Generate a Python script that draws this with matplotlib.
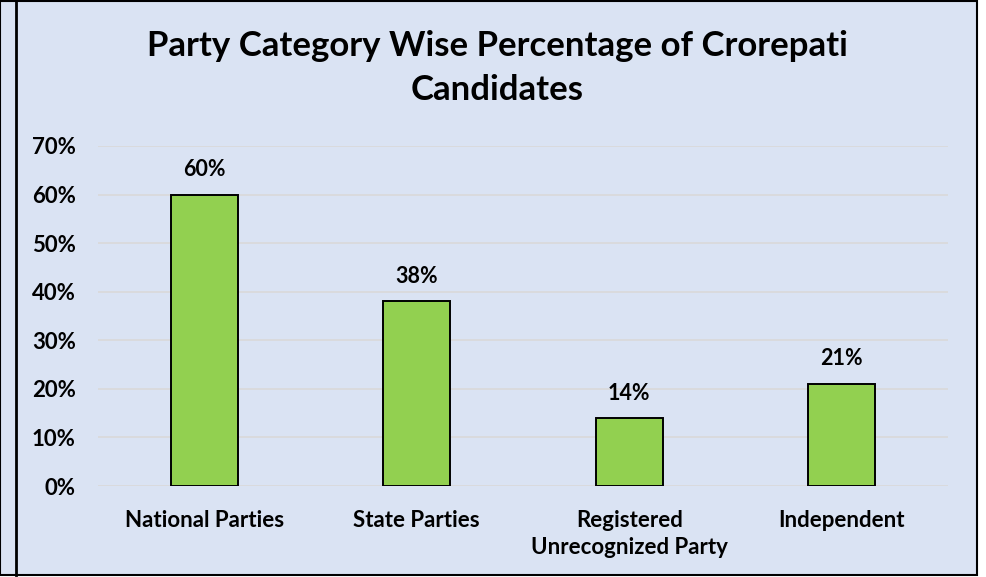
import matplotlib
matplotlib.use("Agg")
import matplotlib.pyplot as plt
from matplotlib.patches import Rectangle
from matplotlib.lines import Line2D
import numpy as np

# ─── Data ────────────────────────────────────────────────────────────────────
CATEGORIES = ["National Parties", "State Parties", "Registered\nUnrecognized Party", "Independent"]
PERCENTS   = [60, 38, 14, 21]
Y_TICKS    = [0, 10, 20, 30, 40, 50, 60, 70]
TITLE      = "Party Category Wise Percentage of Crorepati\nCandidates"

BG    = "#dae3f3"
GREEN = "#92d050"
GRID  = "#d9d9d9"

plt.rcParams["font.family"] = ["Lato", "DejaVu Sans"]
plt.rcParams["font.weight"] = "bold"

W, H = 987, 577
fig = plt.figure(figsize=(W / 100, H / 100), dpi=100, facecolor="white")

# chart frame
fig.patches.append(Rectangle((0, 2 / H), 977 / W, (H - 3) / H, transform=fig.transFigure,
                             facecolor=BG, edgecolor="black", linewidth=1.5, zorder=-2))
fig.lines.append(Line2D([16 / W, 16 / W], [2 / H, 1 - 1 / H], transform=fig.transFigure,
                        color="black", linewidth=2, zorder=-1))

ax = fig.add_axes([98 / W, 0.1577, (948 - 98) / W, 0.747 - 0.1577])
ax.set_zorder(1)
ax.set_facecolor("none")

x = np.arange(len(CATEGORIES))
bars = ax.bar(x, PERCENTS, width=0.315, color=GREEN, edgecolor="black", linewidth=1.4, zorder=3)

for rect, v in zip(bars, PERCENTS):
    ax.annotate(f"{v}%", (rect.get_x() + rect.get_width() / 2, v), xytext=(0, 18),
                textcoords="offset points", ha="center", va="center",
                fontsize=15.5, fontweight="bold")

ax.set_xlim(-0.5, len(CATEGORIES) - 0.5)
ax.set_ylim(0, 70)
ax.set_yticks(Y_TICKS)
ax.set_yticklabels([f"{t}%" for t in Y_TICKS], fontsize=16, fontweight="bold")
ax.set_xticks(x)
ax.set_xticklabels(CATEGORIES, fontsize=16, fontweight="bold", linespacing=1.35, va="top")
ax.tick_params(axis="both", length=0)
ax.tick_params(axis="x", pad=17)
ax.tick_params(axis="y", pad=16)
ax.grid(axis="y", color=GRID, linewidth=1.2, zorder=0)
for s in ax.spines.values():
    s.set_visible(False)

fig.text(497 / W, 1 - 68 / H, TITLE, ha="center", va="center", fontsize=25,
         fontweight="bold", linespacing=1.5)

fig.savefig("out.png", dpi=100, facecolor="white")
